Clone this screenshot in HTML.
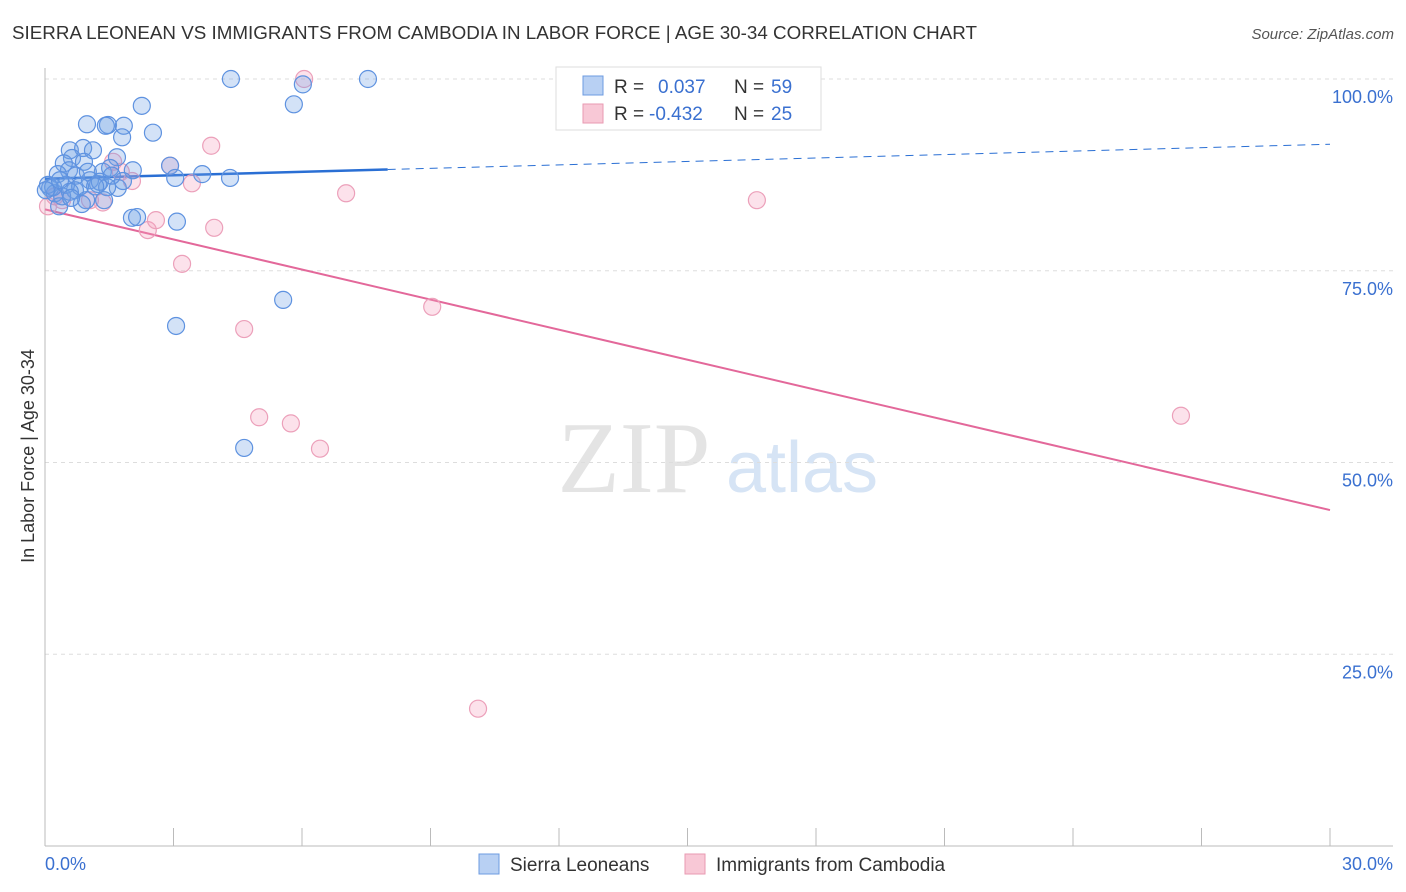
<!DOCTYPE html>
<html><head><meta charset="utf-8"><style>
body{margin:0;background:#fff;font-family:"Liberation Sans",sans-serif}
svg{display:block}
</style></head><body>
<svg id="chart" width="1406" height="892" xmlns="http://www.w3.org/2000/svg">
<text x="12" y="39" font-size="18" fill="#333" textLength="965" lengthAdjust="spacingAndGlyphs">SIERRA LEONEAN VS IMMIGRANTS FROM CAMBODIA IN LABOR FORCE | AGE 30-34 CORRELATION CHART</text>
<text x="1394" y="39" font-size="15" fill="#555" font-style="italic" text-anchor="end">Source: ZipAtlas.com</text>
<text x="634" y="492" font-size="102" fill="#e4e4e4" font-family="Liberation Serif,serif" text-anchor="middle">ZIP</text>
<text x="802" y="492" font-size="72" fill="#d6e4f5" text-anchor="middle">atlas</text>
<text transform="translate(34,456) rotate(-90)" font-size="18" fill="#333" text-anchor="middle">In Labor Force | Age 30-34</text>
<g id="grid"></g><g id="axes"></g><g id="trends"></g><g id="pts"></g>
<g>
<rect x="556" y="67" width="265" height="63" fill="#fff" stroke="#ddd"/>
<rect x="583" y="76" width="20" height="19" fill="#b8d0f3" stroke="#6d9be0"/>
<text x="614" y="93" font-size="19" fill="#333">R =</text><text x="658" y="93" font-size="19" fill="#3a70d0">0.037</text>
<text x="734" y="93" font-size="19" fill="#333">N =</text><text x="771" y="93" font-size="19" fill="#3a70d0">59</text>
<rect x="583" y="104" width="20" height="19" fill="#f8c8d6" stroke="#e89ab2"/>
<text x="614" y="120" font-size="19" fill="#333">R =</text><text x="649" y="120" font-size="19" fill="#3a70d0">-0.432</text>
<text x="734" y="120" font-size="19" fill="#333">N =</text><text x="771" y="120" font-size="19" fill="#3a70d0">25</text>
</g>
<g>
<rect x="479" y="854" width="20" height="20" fill="#b8d0f3" stroke="#6d9be0"/>
<text x="510" y="871" font-size="19" fill="#333">Sierra Leoneans</text>
<rect x="685" y="854" width="20" height="20" fill="#f8c8d6" stroke="#e89ab2"/>
<text x="716" y="871" font-size="19" fill="#333">Immigrants from Cambodia</text>
</g>
</svg>
<script>
const blueX=[4.34,7.54,6.02,5.81,2.26,0.98,1.47,1.42,1.84,2.52,1.80,0.58,0.89,1.12,0.63,1.68,0.91,0.44,0.56,2.92,2.05,1.35,3.04,3.67,4.32,0.30,0.72,1.05,1.24,1.70,1.45,0.70,0.12,0.23,0.40,0.07,0.19,0.49,1.28,0.82,0.33,0.58,0.96,1.38,0.86,2.03,2.15,3.08,5.56,3.06,4.65,1.52,1.82,0.35,0.02,1.00,1.56,0.61,1.17];
const blueY=[100,100,99.3,96.7,96.5,94.1,94.0,93.9,93.9,93.0,92.4,90.7,91.0,90.7,89.7,89.8,89.2,89.0,88.1,88.7,88.1,87.9,87.1,87.6,87.1,87.6,87.4,86.8,86.3,85.8,85.9,85.5,85.8,85.1,84.7,86.2,85.9,86.2,86.6,86.0,83.4,85.3,84.2,84.2,83.7,81.9,82.0,81.4,71.2,67.8,51.9,88.4,86.7,86.8,85.5,87.9,87.4,84.5,86.0];
const pinkX=[6.05,2.92,3.88,1.59,1.77,2.03,3.43,7.03,16.62,1.35,1.05,0.40,0.07,2.40,2.59,3.95,3.20,9.04,4.65,5.00,5.74,6.42,26.52,10.11,0.23];
const pinkY=[100,88.7,91.3,89.2,87.9,86.7,86.4,85.1,84.2,83.9,84.2,84.2,83.4,80.3,81.6,80.6,75.9,70.3,67.4,55.9,55.1,51.8,56.1,17.9,84.7];
const blueTrend=[87.0,91.5]; const blueSolidEnd=8.0;
const pinkTrend=[83.0,43.8];
const yTicks=[100,75,50,25]; const yTickLabels=["100.0%","75.0%","50.0%","25.0%"];
const xTicks=[0,3,6,9,12,15,18,21,24,27,30];
const NS="http://www.w3.org/2000/svg";
const X=v=>45+v*(1285/30), Y=v=>846-v*7.67;
function mk(t,a,p){const e=document.createElementNS(NS,t);for(const k in a)e.setAttribute(k,a[k]);p.appendChild(e);return e;}
const grid=document.getElementById('grid'),axes=document.getElementById('axes');
yTicks.forEach((t,i)=>{
 const l=mk('line',{x1:45,x2:1393,y1:Y(t),y2:Y(t),stroke:'#ddd','stroke-dasharray':'4,4'},grid);
 
 
 const tx=mk('text',{x:1393,y:Y(t)+24,'font-size':18,fill:'#3a70d0','text-anchor':'end'},axes);tx.textContent=yTickLabels[i];
 
 
});
let a=mk('line',{x1:45,x2:45,y1:68,y2:846,stroke:'#bbb'},axes);


a=mk('line',{x1:45,x2:1393,y1:846,y2:846,stroke:'#bbb'},axes);


xTicks.forEach(t=>{const l=mk('line',{x1:X(t),x2:X(t),y1:828,y2:846,stroke:'#bbb'},axes);
 
 });
let t0=mk('text',{x:45,y:870,'font-size':18,fill:'#3a70d0'},axes);t0.textContent='0.0%';


t0=mk('text',{x:1393,y:870,'font-size':18,fill:'#3a70d0','text-anchor':'end'},axes);t0.textContent='30.0%';


const pts=document.getElementById('pts');
pinkX.forEach((x,i)=>{const c=mk('circle',{cx:X(x),cy:Y(pinkY[i]),r:8.5,fill:'rgba(244,160,188,0.3)',stroke:'#eca0ba','stroke-width':1.2},pts);
 
 });
blueX.forEach((x,i)=>{const c=mk('circle',{cx:X(x),cy:Y(blueY[i]),r:8.5,fill:'rgba(110,158,230,0.3)',stroke:'#5e92e0','stroke-width':1.2},pts);
 
 });
const tr=document.getElementById('trends');
const by=x=>blueTrend[0]+(blueTrend[1]-blueTrend[0])*x/30;
let l=mk('line',{x1:X(0),y1:Y(by(0)),x2:X(blueSolidEnd),y2:Y(by(blueSolidEnd)),stroke:'#2a6fd4','stroke-width':2.5},tr);


l=mk('line',{x1:X(blueSolidEnd),y1:Y(by(blueSolidEnd)),x2:X(30),y2:Y(by(30)),stroke:'#2a6fd4','stroke-width':1,'stroke-dasharray':'8,6'},tr);


l=mk('line',{x1:X(0),y1:Y(pinkTrend[0]),x2:X(30),y2:Y(pinkTrend[1]),stroke:'#e3689a','stroke-width':2},tr);


</script>
</body></html>
